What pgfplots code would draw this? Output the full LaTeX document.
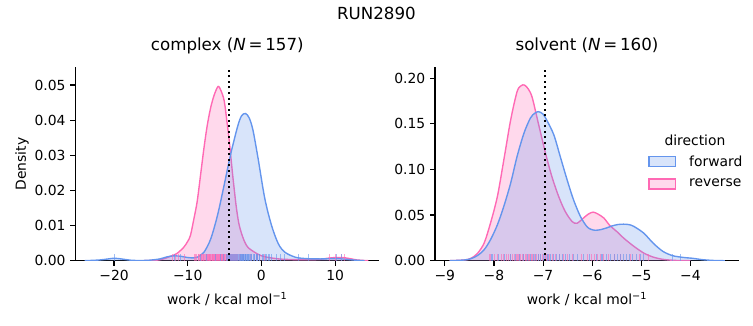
\documentclass[border=0pt]{standalone}
\usepackage{fontspec}
\setmainfont{DejaVu Sans}
\usepackage{pgfplots}
\usepackage{pgfplotstable}
\pgfplotsset{compat=1.18}
\definecolor{fwdc}{HTML}{6495ED}
\definecolor{revc}{HTML}{FF69B4}

\pgfplotstableread{
x y
-16 0
-14 0.0002
-13 0.0007
-12.4 0.0012
-11.5 0.0020
-10.55 0.0038
-10 0.0055
-9.63 0.0072
-9.2 0.0115
-8.72 0.0168
-8.25 0.0245
-7.8 0.0320
-7.35 0.0385
-6.88 0.0436
-6.4 0.0472
-5.87 0.0496
-5.45 0.0482
-5.05 0.0455
-4.7 0.0400
-4.36 0.0340
-3.9 0.0244
-3.44 0.0158
-3.1 0.0110
-2.75 0.0081
-2.3 0.0055
-1.83 0.0038
-0.92 0.0024
0 0.0014
1 0.0009
2 0.0006
3 0.0004
5 0.0003
7 0.0003
8 0.0004
9 0.0007
10 0.0009
11 0.0009
12 0.0006
13 0.0002
14.5 0
}\cRev

\pgfplotstableread{
x y
-24 0
-22 0.0002
-20.8 0.0005
-20 0.0007
-19 0.0005
-17.5 0.0001
-15.5 0.0001
-13.8 0.0005
-12.8 0.0011
-11.8 0.0014
-10.8 0.0012
-10 0.0009
-9.2 0.0008
-8.7 0.0010
-7.8 0.0024
-6.88 0.0062
-5.96 0.0129
-5.05 0.0216
-4.13 0.0307
-3.2 0.0384
-2.7 0.0412
-2.16 0.0419
-1.65 0.0406
-1.15 0.0372
-0.46 0.0292
0.46 0.0177
1.38 0.0100
2.3 0.0048
3.2 0.0024
4.6 0.0010
6 0.0006
8 0.0005
10 0.0006
11 0.0005
12.5 0.0002
14 0
}\cFwd

\pgfplotstableread{
x y
-8.9 0
-8.6 0.0008
-8.47 0.0026
-8.34 0.0077
-8.2 0.0193
-8.07 0.0412
-7.93 0.0703
-7.8 0.110
-7.66 0.154
-7.53 0.185
-7.45 0.1915
-7.38 0.1924
-7.30 0.1880
-7.22 0.1785
-7.09 0.149
-6.95 0.1177
-6.82 0.092
-6.68 0.070
-6.55 0.054
-6.41 0.043
-6.31 0.041
-6.18 0.0466
-6.08 0.0510
-5.98 0.0532
-5.88 0.0510
-5.76 0.0466
-5.64 0.0385
-5.50 0.0320
-5.36 0.0248
-5.15 0.0157
-4.95 0.0084
-4.76 0.0040
-4.56 0.0015
-4.3 0.0003
-4.0 0
}\sRev

\pgfplotstableread{
x y
-8.9 0
-8.6 0.0008
-8.47 0.0022
-8.34 0.0055
-8.2 0.012
-8.07 0.023
-7.93 0.0393
-7.8 0.0594
-7.66 0.0849
-7.53 0.114
-7.39 0.1395
-7.26 0.156
-7.17 0.1615
-7.09 0.1632
-7.0 0.1605
-6.92 0.1534
-6.78 0.1377
-6.65 0.114
-6.51 0.0885
-6.38 0.0667
-6.24 0.0485
-6.11 0.0375
-6.03 0.0345
-5.94 0.0333
-5.83 0.0340
-5.70 0.0360
-5.60 0.0380
-5.48 0.0396
-5.36 0.0400
-5.25 0.0395
-5.15 0.0375
-4.95 0.0302
-4.76 0.0193
-4.56 0.0102
-4.36 0.0055
-4.15 0.0036
-3.95 0.0026
-3.75 0.0011
-3.5 0.0002
-3.3 0
}\sFwd

\pgfplotsset{
  every axis/.append style={
    scale only axis, width=218.9pt, height=139.25pt,
    axis lines*=left,
    axis line style={line width=0.8pt},
    tick align=outside, major tick length=3.5pt,
    tick style={black, line width=0.8pt},
    scaled ticks=false,
    ticklabel style={font=\fontsize{10}{12}\selectfont},
    label style={font=\fontsize{10}{12}\selectfont},
    title style={font=\fontsize{12}{14}\selectfont, at={(0.5,1)}, anchor=base, yshift=6pt},
    xlabel style={at={(rel axis cs:0.5,-0.198)}, anchor=center},
    clip mode=individual,
  },
  kde/.style={smooth, tension=0.5, line width=1pt},
  rug/.style={only marks, mark=|, mark size=2.3pt, mark options={yshift=2.3pt, line width=0.75pt, draw opacity=0.6}},
}

\begin{document}
\begin{tikzpicture}
\path[use as bounding box] (0,0) rectangle (542.16pt,-234pt);
\node[font=\fontsize{12}{14}\selectfont, inner sep=0pt] at (271pt,-9.4pt) {RUN2890};

\begin{axis}[
  at={(54.2pt,-187.7pt)}, anchor=south west,
  xmin=-25.26, xmax=16.0, ymin=0, ymax=0.05504,
  xtick={-20,-10,0,10}, xticklabels={−20,−10,0,10},
  ytick={0,0.01,0.02,0.03,0.04,0.05},
  yticklabels={0.00,0.01,0.02,0.03,0.04,0.05},
  title={complex (\textit{N}\,=\,157)},
  xlabel={work / kcal mol\textsuperscript{−1}},
  ylabel={Density},
  ylabel style={at={(rel axis cs:-0.1755,0.5)}, anchor=center},
]
\addplot[draw=none, fill=revc, fill opacity=0.25, kde, forget plot] table {\cRev} \closedcycle;
\addplot[revc, kde, forget plot] table {\cRev};
\addplot[draw=none, fill=fwdc, fill opacity=0.25, kde, forget plot] table {\cFwd} \closedcycle;
\addplot[fwdc, kde, forget plot] table {\cFwd};
\addplot[rug, color=revc, forget plot] coordinates {
(-12.1,0) (-11.6,0) (-11.2,0) (-10.4,0) (-9.1,0) (-8.8,0) (-8.6,0) (-8.4,0) (-8.2,0) (-8.0,0)
(-7.9,0) (-7.7,0) (-7.6,0) (-7.5,0) (-7.3,0) (-7.2,0) (-7.1,0) (-7.0,0) (-6.9,0) (-6.8,0)
(-6.7,0) (-6.6,0) (-6.5,0) (-6.4,0) (-6.3,0) (-6.2,0) (-6.1,0) (-6.0,0) (-5.9,0) (-5.8,0)
(-5.7,0) (-5.6,0) (-5.5,0) (-5.4,0) (-5.3,0) (-5.2,0) (-5.1,0) (-5.0,0) (-4.9,0) (-4.7,0)
(-4.5,0) (-4.3,0) (-4.1,0) (-3.9,0) (-3.6,0) (-3.3,0) (-3.0,0) (-2.6,0) (-2.2,0) (-1.5,0)
(-0.6,0) (0.4,0) (9.2,0) (10.1,0) (10.9,0) (11.3,0)
(-8.95,0) (-8.5,0) (-8.1,0) (-7.8,0) (-7.45,0) (-7.25,0) (-7.05,0) (-6.85,0) (-6.65,0) (-6.45,0)
(-6.25,0) (-6.05,0) (-5.85,0) (-5.65,0) (-5.45,0) (-5.25,0) (-5.05,0) (-4.8,0) (-4.6,0) (-4.2,0)
(-3.8,0) (-3.45,0) (-2.8,0) (-2.4,0)};
\addplot[rug, color=fwdc, forget plot] coordinates {
(-20.0,0) (-11.8,0) (-11.0,0) (-8.3,0) (-7.4,0) (-6.2,0) (-5.6,0) (-5.1,0) (-4.8,0) (-4.6,0)
(-4.4,0) (-4.2,0) (-4.0,0) (-3.8,0) (-3.6,0) (-3.4,0) (-3.2,0) (-3.0,0) (-2.9,0) (-2.8,0)
(-2.7,0) (-2.6,0) (-2.5,0) (-2.4,0) (-2.3,0) (-2.2,0) (-2.1,0) (-2.0,0) (-1.9,0) (-1.8,0)
(-1.7,0) (-1.6,0) (-1.5,0) (-1.3,0) (-1.1,0) (-0.9,0) (-0.7,0) (-0.5,0) (-0.2,0) (0.1,0)
(0.5,0) (0.9,0) (1.4,0) (2.1,0) (2.6,0) (3.1,0) (5.0,0) (6.4,0) (10.2,0) (10.9,0)
(-4.3,0) (-3.9,0) (-3.5,0) (-3.1,0) (-2.75,0) (-2.45,0) (-2.15,0) (-1.85,0) (-1.4,0) (-1.0,0)
(-0.6,0) (-0.3,0) (0.3,0) (0.7,0) (1.1,0)};
\addplot[black, line width=1.5pt, dash pattern=on 1.5pt off 2.5pt, forget plot] coordinates {(-4.35,0) (-4.35,0.05504)};
\end{axis}

\begin{axis}[
  at={(313.2pt,-187.7pt)}, anchor=south west,
  xmin=-9.2, xmax=-3.01, ymin=0, ymax=0.2118,
  xtick={-9,-8,-7,-6,-5,-4}, xticklabels={−9,−8,−7,−6,−5,−4},
  ytick={0,0.05,0.10,0.15,0.20},
  yticklabels={0.00,0.05,0.10,0.15,0.20},
  title={solvent (\textit{N}\,=\,160)},
  xlabel={work / kcal mol\textsuperscript{−1}},
  legend style={draw=none, fill=none, at={(rel axis cs:0.70,0.56)}, anchor=north west,
    font=\fontsize{10}{12}\selectfont, row sep=4pt, inner sep=0pt},
  legend cell align=left,
  legend image code/.code={\draw[#1] (0pt,-3.6pt) rectangle (19.4pt,3.6pt);},
]
\addplot[draw=none, fill=revc, fill opacity=0.25, kde, forget plot] table {\sRev} \closedcycle;
\addplot[revc, kde, forget plot] table {\sRev};
\addplot[draw=none, fill=fwdc, fill opacity=0.25, kde, forget plot] table {\sFwd} \closedcycle;
\addplot[fwdc, kde, forget plot] table {\sFwd};
\addplot[rug, color=revc, forget plot] coordinates {
(-8.08,0) (-7.98,0) (-7.92,0) (-7.85,0) (-7.80,0) (-7.74,0) (-7.70,0) (-7.66,0) (-7.62,0) (-7.58,0)
(-7.55,0) (-7.51,0) (-7.48,0) (-7.45,0) (-7.42,0) (-7.39,0) (-7.36,0) (-7.33,0) (-7.30,0) (-7.27,0)
(-7.24,0) (-7.21,0) (-7.18,0) (-7.14,0) (-7.10,0) (-7.06,0) (-7.02,0) (-6.97,0) (-6.92,0) (-6.86,0)
(-6.80,0) (-6.74,0) (-6.66,0) (-6.58,0) (-6.50,0) (-6.40,0) (-6.22,0) (-6.10,0) (-6.02,0) (-5.96,0)
(-5.90,0) (-5.84,0) (-5.76,0) (-5.66,0) (-5.55,0) (-5.42,0) (-5.22,0) (-5.04,0) (-4.86,0)};
\addplot[rug, color=fwdc, forget plot] coordinates {
(-8.04,0) (-7.90,0) (-7.78,0) (-7.66,0) (-7.56,0) (-7.48,0) (-7.40,0) (-7.32,0) (-7.26,0) (-7.20,0)
(-7.15,0) (-7.10,0) (-7.05,0) (-7.00,0) (-6.95,0) (-6.90,0) (-6.84,0) (-6.78,0) (-6.72,0) (-6.66,0)
(-6.60,0) (-6.54,0) (-6.46,0) (-6.38,0) (-6.30,0) (-6.18,0) (-6.05,0) (-5.92,0) (-5.80,0) (-5.70,0)
(-5.62,0) (-5.55,0) (-5.48,0) (-5.42,0) (-5.36,0) (-5.30,0) (-5.24,0) (-5.17,0) (-5.10,0) (-5.02,0)
(-4.95,0) (-4.36,0) (-4.21,0)};
\addplot[black, line width=1.5pt, dash pattern=on 1.5pt off 2.5pt, forget plot] coordinates {(-6.96,0) (-6.96,0.2118)};
\addlegendimage{draw=fwdc, fill=fwdc, fill opacity=0.25, line width=1pt}
\addlegendentry{\hspace{7.2pt}forward}
\addlegendimage{draw=revc, fill=revc, fill opacity=0.25, line width=1pt}
\addlegendentry{\hspace{7.2pt}reverse}
\node[font=\fontsize{10}{12}\selectfont] at (rel axis cs:0.855,0.624) {direction};
\end{axis}
\end{tikzpicture}
\end{document}
